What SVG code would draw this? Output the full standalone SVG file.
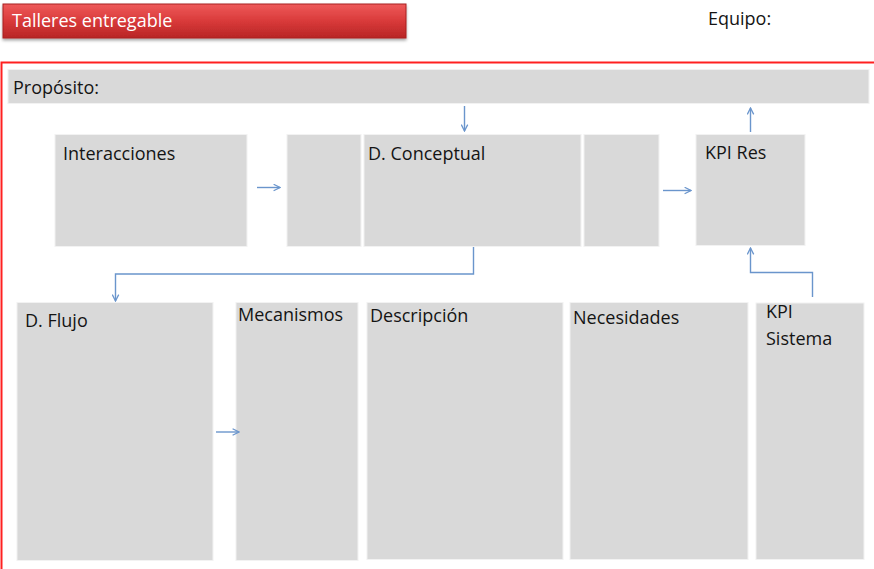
<svg xmlns="http://www.w3.org/2000/svg" width="874" height="569" viewBox="0 0 874 569">
<style>
.box{fill:#d9d9d9;stroke:#f2f2f2;stroke-width:1}
.lbl{font-family:"Open Sans","Liberation Sans",sans-serif;font-size:18px;fill:#141414}
.conn{fill:none;stroke:#6a95cc;stroke-width:1.4}
</style>
<defs>
<linearGradient id="rg" x1="0" y1="0" x2="0" y2="1">
<stop offset="0" stop-color="#ee5a5a"/>
<stop offset="0.5" stop-color="#d93a3a"/>
<stop offset="1" stop-color="#b82525"/>
</linearGradient>
<filter id="sh" x="-5%" y="-20%" width="110%" height="160%">
<feDropShadow dx="0" dy="2" stdDeviation="1.5" flood-color="#000" flood-opacity="0.35"/>
</filter>
<marker id="ah" viewBox="0 0 10 10" refX="9" refY="5" markerWidth="8" markerHeight="8" markerUnits="userSpaceOnUse" orient="auto">
<path d="M1,1 L9,5 L1,9" fill="none" stroke="#6a95cc" stroke-width="1.6"/>
</marker>
</defs>
<rect width="874" height="569" fill="#ffffff"/>
<g id="title">
<rect x="3" y="4" width="403" height="34" fill="url(#rg)" stroke="#a82020" stroke-width="1" filter="url(#sh)"/>
<text x="12" y="27" font-family="Open Sans,Liberation Sans,sans-serif" font-size="18" fill="#ffffff">Talleres entregable</text>
</g>
<g id="equipo"><text class="lbl" x="708" y="25">Equipo:</text></g>
<rect id="frame" x="1.5" y="62.5" width="880" height="520" fill="none" stroke="#ff2020" stroke-width="2"/>
<g id="proposito"><rect class="box" x="8" y="69.5" width="861" height="34"/><text class="lbl" x="13" y="94">Propósito:</text></g>
<g id="interacciones"><rect class="box" x="55" y="134.5" width="192" height="112"/><text class="lbl" x="63" y="160">Interacciones</text></g>
<g id="box2"><rect class="box" x="287" y="134.5" width="74" height="112"/></g>
<g id="conceptual"><rect class="box" x="364" y="134.5" width="217" height="112"/><text class="lbl" x="368" y="160">D. Conceptual</text></g>
<g id="box4"><rect class="box" x="584" y="134.5" width="75" height="112"/></g>
<g id="kpires"><rect class="box" x="696" y="134.5" width="109" height="111"/><text class="lbl" x="705" y="159">KPI Res</text></g>
<g id="flujo"><rect class="box" x="17" y="302.5" width="196" height="258"/><text class="lbl" x="25" y="327">D. Flujo</text></g>
<g id="mecanismos"><rect class="box" x="236" y="302.5" width="122" height="258"/><text class="lbl" x="238" y="321">Mecanismos</text></g>
<g id="descripcion"><rect class="box" x="367" y="302.5" width="196" height="257"/><text class="lbl" x="370" y="322">Descripción</text></g>
<g id="necesidades"><rect class="box" x="570" y="302.5" width="178" height="257"/><text class="lbl" x="573" y="324">Necesidades</text></g>
<g id="kpisistema"><rect class="box" x="756" y="303" width="108" height="256.5"/><text class="lbl" x="766" y="318">KPI</text><text class="lbl" x="766" y="345">Sistema</text></g>
<g id="connectors">
<path class="conn" marker-end="url(#ah)" d="M257,187.5 H280"/>
<path class="conn" marker-end="url(#ah)" d="M663,190.5 H691"/>
<path class="conn" marker-end="url(#ah)" d="M464.5,106 V131"/>
<path class="conn" marker-end="url(#ah)" d="M750.5,132 V108"/>
<path class="conn" marker-end="url(#ah)" d="M812.5,297 V272.5 H750.5 V248"/>
<path class="conn" marker-end="url(#ah)" d="M473.5,247 V274 H115.5 V301"/>
<path class="conn" marker-end="url(#ah)" d="M216,432 H239"/>
</g>
</svg>
